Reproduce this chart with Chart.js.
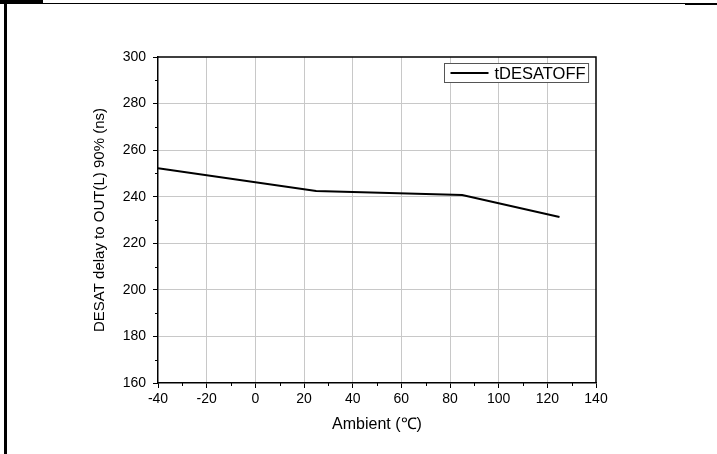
<!DOCTYPE html>
<html>
<head>
<meta charset="utf-8">
<script src="https://cdn.jsdelivr.net/npm/chart.js@4.4.1/dist/chart.umd.min.js"></script>
<style>
html, body { margin: 0; padding: 0; background: #fff; }
#wrap { width: 717px; height: 454px; position: relative; }
</style>
</head>
<body>
<div id="wrap"><canvas id="myChart"></canvas></div>
<script>
// ambient temperature (C) vs DESAT off delay (ns)
const temps = [-40, 25, 85, 125];
const tDesatOff = [252.2, 242.5, 240.7, 231.3];
const seriesName = "tDESATOFF";

const xTicks = [-40, -20, 0, 20, 40, 60, 80, 100, 120, 140];
const yTicks = [160, 180, 200, 220, 240, 260, 280, 300];
const xMinor = [-30, -10, 10, 30, 50, 70, 90, 110, 130];
const yMinor = [170, 190, 210, 230, 250, 270, 290];

const FONT = "'Liberation Sans', Arial, sans-serif";

// page frame, plot box, minor ticks and legend
const extras = {
  id: "extras",
  beforeDraw(chart) {
    const c = chart.ctx;
    c.save();
    c.fillStyle = "#fff";
    c.fillRect(0, 0, chart.width, chart.height);
    c.fillStyle = "#000";
    c.fillRect(4, 0, 3, chart.height);
    c.fillRect(0, 3, chart.width, 1);
    c.fillRect(0, 0, 43, 4);
    c.fillRect(685, 3, chart.width - 685, 2);
    c.restore();
  },
  afterDraw(chart) {
    const c = chart.ctx;
    const a = chart.chartArea;
    const xs = chart.scales.x, ys = chart.scales.y;
    c.save();
    c.strokeStyle = "#000";
    c.lineWidth = 1.5;
    c.beginPath();
    c.moveTo(a.left, a.top);
    c.lineTo(a.right, a.top);
    c.lineTo(a.right, a.bottom);
    c.stroke();

    c.lineWidth = 1;
    c.beginPath();
    xMinor.forEach(v => {
      const px = Math.round(xs.getPixelForValue(v)) + 0.5;
      c.moveTo(px, a.bottom);
      c.lineTo(px, a.bottom + 3);
    });
    yMinor.forEach(v => {
      const py = Math.round(ys.getPixelForValue(v)) + 0.5;
      c.moveTo(a.left, py);
      c.lineTo(a.left - 3, py);
    });
    c.stroke();

    // legend box
    const ds = chart.data.datasets[0];
    c.font = "16.5px " + FONT;
    const tw = c.measureText(ds.label).width;
    const bw = 6 + 38 + 6 + tw + 3;
    const bh = 19;
    const bx = Math.round(a.right - 8 - bw) + 0.5;
    const by = Math.round(a.top + 6) + 0.5;
    c.fillStyle = "#fff";
    c.fillRect(bx, by, bw, bh);
    c.strokeStyle = "#555";
    c.lineWidth = 1;
    c.strokeRect(bx, by, bw, bh);
    c.strokeStyle = ds.borderColor;
    c.lineWidth = 2;
    c.beginPath();
    c.moveTo(bx + 6, by + bh / 2);
    c.lineTo(bx + 44, by + bh / 2);
    c.stroke();
    c.fillStyle = "#000";
    c.textBaseline = "middle";
    c.fillText(ds.label, bx + 50, by + bh / 2 + 1);
    c.restore();
  }
};

const gridColor = (ctx, n) =>
  (ctx.index === 0 || ctx.index === n - 1) ? "rgba(0,0,0,0)" : "#c8c8c8";

new Chart("myChart", {
  type: "line",
  data: {
    datasets: [{
      label: seriesName,
      data: temps.map((t, i) => ({ x: t, y: tDesatOff[i] })),
      borderColor: "#000",
      borderWidth: 2,
      pointRadius: 0,
      tension: 0,
      fill: false
    }]
  },
  options: {
    responsive: true,
    maintainAspectRatio: false,
    animation: false,
    devicePixelRatio: 1,
    layout: { padding: { top: 57, right: 121, bottom: 0, left: 0 } },
    plugins: {
      legend: { display: false },
      tooltip: { enabled: false }
    },
    scales: {
      x: {
        type: "linear",
        min: xTicks[0],
        max: xTicks[xTicks.length - 1],
        afterBuildTicks: s => { s.ticks = xTicks.map(v => ({ value: v })); },
        afterFit: s => { s.height = 71; },
        border: { color: "#000", width: 1.5 },
        grid: {
          color: ctx => gridColor(ctx, xTicks.length),
          lineWidth: 1,
          drawTicks: true,
          tickLength: 5,
          tickColor: "#000",
          tickWidth: 1
        },
        ticks: {
          color: "#000",
          padding: 3,
          maxRotation: 0,
          font: { family: FONT, size: 14 }
        },
        title: {
          display: true,
          text: "Ambient (℃)",
          color: "#000",
          font: { family: FONT, size: 16 },
          padding: { top: 0, bottom: 20 }
        }
      },
      y: {
        type: "linear",
        min: yTicks[0],
        max: yTicks[yTicks.length - 1],
        afterBuildTicks: s => { s.ticks = yTicks.map(v => ({ value: v })); },
        afterFit: s => { s.width = 158; },
        border: { color: "#000", width: 1.5 },
        grid: {
          color: ctx => gridColor(ctx, yTicks.length),
          lineWidth: 1,
          drawTicks: true,
          tickLength: 5,
          tickColor: "#000",
          tickWidth: 1
        },
        ticks: {
          color: "#000",
          padding: 7,
          font: { family: FONT, size: 14 }
        },
        title: {
          display: true,
          text: "DESAT delay to OUT(L) 90% (ns)",
          color: "#000",
          font: { family: FONT, size: 15 },
          padding: { top: 91, bottom: 0 }
        }
      }
    }
  },
  plugins: [extras]
});
</script>
</body>
</html>
